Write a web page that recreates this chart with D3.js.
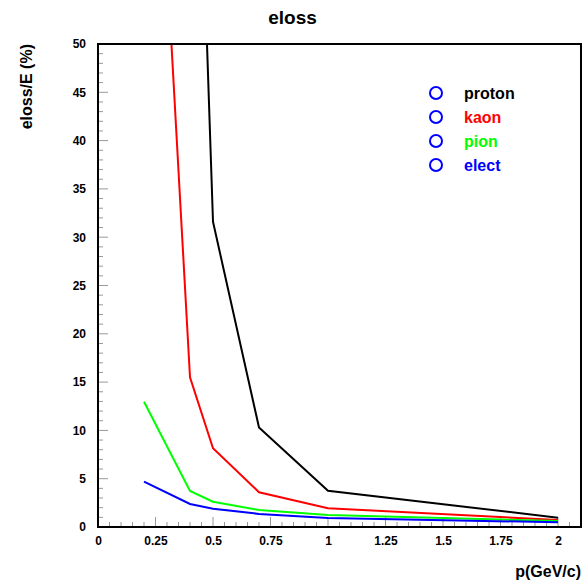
<!DOCTYPE html>
<html>
<head>
<meta charset="utf-8">
<script src="https://cdn.jsdelivr.net/npm/d3@7"></script>
<style>
  body { margin: 0; background: #fff; }
  text { font-family: "Liberation Sans", Arial, sans-serif; font-weight: bold; }
</style>
</head>
<body>
<div id="chart"></div>
<script>
const momentum = [0.2, 0.4, 0.5, 0.7, 1, 2];
const proton = [400, 102, 31.6, 10.3, 3.76, 0.96];
const kaon = [101, 15.5, 8.15, 3.6, 1.94, 0.72];
const pion = [12.97, 3.73, 2.62, 1.76, 1.24, 0.62];
const elect = [4.69, 2.38, 1.9, 1.35, 0.93, 0.49];
const seriesNames = ["proton", "kaon", "pion", "elect"];
const seriesColors = ["#000000", "#ff0000", "#00ff00", "#0000ff"];
const xTicks = [0, 0.25, 0.5, 0.75, 1, 1.25, 1.5, 1.75, 2];
const yTicks = [0, 5, 10, 15, 20, 25, 30, 35, 40, 45, 50];

const W = 585, H = 585;
const margin = { top: 44, right: 4, bottom: 58, left: 98 };
const width = W - margin.left - margin.right;
const height = H - margin.top - margin.bottom;

const svg = d3.select("#chart").append("svg")
    .attr("width", W)
    .attr("height", H);

const x = d3.scaleLinear().domain([0, 2.1]).range([0, width]);
const y = d3.scaleLinear().domain([0, 50]).range([height, 0]);

svg.append("defs").append("clipPath")
    .attr("id", "plot-clip")
    .append("rect")
    .attr("width", width)
    .attr("height", height);

const g = svg.append("g")
    .attr("transform", `translate(${margin.left},${margin.top})`);

// minor ticks drawn inside the frame
const xMinor = d3.range(0, 2.1001, 0.05);
const yMinor = d3.range(0, 50.001, 1);

g.selectAll(".xminor")
    .data(xMinor)
    .enter().append("line")
    .attr("x1", d => x(d)).attr("x2", d => x(d))
    .attr("y1", height).attr("y2", d => xTicks.some(t => Math.abs(t - d) < 1e-6) ? height - 10 : height - 5)
    .attr("stroke", "#999").attr("stroke-width", 1);

g.selectAll(".yminor")
    .data(yMinor)
    .enter().append("line")
    .attr("y1", d => y(d)).attr("y2", d => y(d))
    .attr("x1", 0).attr("x2", d => d % 5 === 0 ? 10 : 5)
    .attr("stroke", "#999").attr("stroke-width", 1);

// tick labels
const xAxis = g.append("g")
    .attr("transform", `translate(0,${height})`)
    .call(d3.axisBottom(x).tickValues(xTicks).tickSize(0).tickPadding(9)
        .tickFormat(d => d3.format("~g")(d)));
xAxis.select(".domain").remove();
xAxis.selectAll("text").attr("font-size", 12).attr("fill", "#000")
    .style("font-family", "'Liberation Sans', Arial, sans-serif").style("font-weight", "bold");

const yAxis = g.append("g")
    .call(d3.axisLeft(y).tickValues(yTicks).tickSize(0).tickPadding(12));
yAxis.select(".domain").remove();
yAxis.selectAll("text").attr("font-size", 12).attr("fill", "#000")
    .style("font-family", "'Liberation Sans', Arial, sans-serif").style("font-weight", "bold");

// curves
const line = d3.line()
    .x((d, i) => x(momentum[i]))
    .y(d => y(d));

const curves = g.append("g").attr("clip-path", "url(#plot-clip)");
[proton, kaon, pion, elect].forEach((vals, k) => {
    curves.append("path")
        .datum(vals)
        .attr("d", line)
        .attr("fill", "none")
        .attr("stroke", seriesColors[k])
        .attr("stroke-width", 2);
});

// frame
g.append("rect")
    .attr("width", width)
    .attr("height", height)
    .attr("fill", "none")
    .attr("stroke", "#000")
    .attr("stroke-width", 2);

// legend
const legend = g.append("g").attr("transform", `translate(${436 - margin.left},${93 - margin.top})`);
seriesNames.forEach((name, i) => {
    legend.append("circle")
        .attr("cx", 0).attr("cy", i * 24)
        .attr("r", 6)
        .attr("fill", "none")
        .attr("stroke", "#0000ff")
        .attr("stroke-width", 2);
    legend.append("text")
        .attr("x", 28).attr("y", i * 24)
        .attr("dy", "0.36em")
        .attr("font-size", 16)
        .attr("fill", seriesColors[i])
        .text(name);
});

// titles
svg.append("text")
    .attr("x", W / 2).attr("y", 24)
    .attr("text-anchor", "middle")
    .attr("font-size", 19)
    .text("eloss");

svg.append("text")
    .attr("transform", `translate(32,${margin.top}) rotate(-90)`)
    .attr("text-anchor", "end")
    .attr("font-size", 16)
    .text("eloss/E (%)");

svg.append("text")
    .attr("x", W - margin.right).attr("y", 577)
    .attr("text-anchor", "end")
    .attr("font-size", 16)
    .text("p(GeV/c)");
</script>
</body>
</html>
